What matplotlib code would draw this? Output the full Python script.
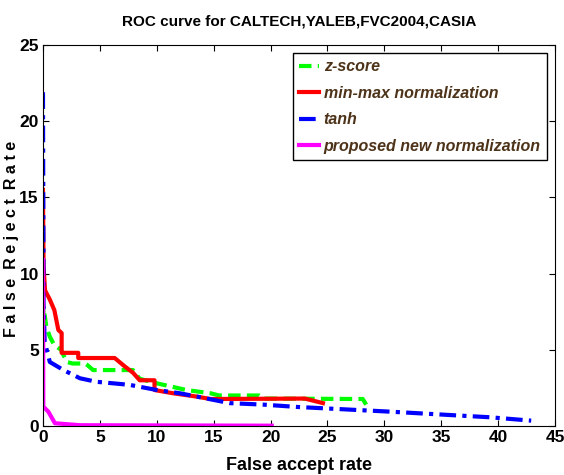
import numpy as np
import matplotlib
matplotlib.use("Agg")
import matplotlib.pyplot as plt

plt.rcParams['font.family'] = ['Liberation Sans Narrow', 'Liberation Sans', 'DejaVu Sans']
plt.rcParams['font.weight'] = 'bold'

# -------------------------------------------------
# DATA
# -------------------------------------------------
zscore_far = [0.0, 0.05, 0.2, 0.3, 0.6, 1.0, 1.6, 1.8, 2.1, 2.6, 3.7, 3.9, 4.4, 7.9, 8.5, 10.0,
              11.2, 12.6, 14.7, 15.5, 19.0, 19.4, 28.1, 28.4]
zscore_frr = [7.0, 7.8, 7.0, 6.5, 5.86, 5.3, 5.0, 4.65, 4.2, 4.1, 4.1, 4.0, 3.67, 3.67, 3.1, 2.8,
              2.6, 2.36, 2.15, 2.0, 2.0, 1.8, 1.77, 1.4]

minmax_far = [0.0, 0.05, 0.18, 0.6, 1.0, 1.35, 1.64, 1.64, 3.1, 3.1, 6.3, 7.2, 7.9, 8.5, 9.8,
              9.8, 11.4, 13.5, 14.7, 23.0, 24.6]
minmax_frr = [15.5, 10.5, 8.9, 8.3, 7.6, 6.3, 6.1, 4.8, 4.8, 4.46, 4.46, 3.9, 3.5, 3.0, 3.0,
              2.36, 2.15, 1.93, 1.77, 1.8, 1.5]

tanh_far = [0.0, 0.05, 0.15, 0.4, 0.6, 1.8, 3.25, 4.7, 7.6, 10.0, 12.0, 14.4, 16.4, 19.4,
            22.3, 30.5, 39.3, 42.9]
tanh_frr = [21.9, 8.0, 5.5, 4.8, 4.2, 3.67, 3.13, 2.9, 2.7, 2.36, 2.15, 1.8, 1.5, 1.4,
            1.25, 0.94, 0.57, 0.35]

prop_far = [0.0, 0.03, 0.47, 1.05, 3.25, 20.1]
prop_frr = [10.9, 1.27, 0.94, 0.18, 0.05, 0.02]

labels = ['z-score', 'min-max normalization', 'tanh', 'proposed new normalization']

# -------------------------------------------------
# PLOT
# -------------------------------------------------
fig = plt.figure(figsize=(5.64, 4.75), dpi=100)
ax = fig.add_axes([0.0762, 0.1032, 0.908, 0.802])

ax.plot(zscore_far, zscore_frr, color='#00ff00', ls='--', lw=3, dashes=(3, 1.5), label=labels[0])
ax.plot(minmax_far, minmax_frr, color='#ff0000', ls='-', lw=3, label=labels[1])
ax.plot(tanh_far, tanh_frr, color='#0000ff', ls='-.', lw=3, dashes=(4, 1.5, 1, 1.5), label=labels[2])
ax.plot(prop_far, prop_frr, color='#ff00ff', ls='-', lw=3, label=labels[3])

ax.set_xlim(0, 45)
ax.set_ylim(0, 25)
ax.set_xticks(np.arange(0, 46, 5))
ax.set_yticks(np.arange(0, 26, 5))
ax.tick_params(direction='in', top=True, right=True, labelsize=12.5, length=4, pad=3)
for lab in ax.get_xticklabels() + ax.get_yticklabels():
    lab.set_fontweight('bold')

ax.set_title('ROC curve for CALTECH,YALEB,FVC2004,CASIA', fontsize=11, fontweight='bold', pad=14)
ax.set_xlabel('False accept rate', fontsize=13, fontweight='bold')
ax.xaxis.set_label_coords(0.5, -0.082)
ax.set_ylabel('F a l s e  R e j e c t  R a t e', fontsize=11.5, fontweight='bold')
ax.yaxis.set_label_coords(-0.047, 0.49)

leg = ax.legend(loc='upper right', fancybox=False, edgecolor='black', framealpha=1,
                handlelength=1.25, handletextpad=0.3, borderpad=0.4, labelspacing=0.72,
                borderaxespad=0.5,
                prop={'size': 11.5, 'style': 'italic', 'weight': 'bold'})
leg.get_frame().set_linewidth(1.0)
for t in leg.get_texts():
    t.set_color('#4d3319')

fig.savefig('out.png', dpi=100)
